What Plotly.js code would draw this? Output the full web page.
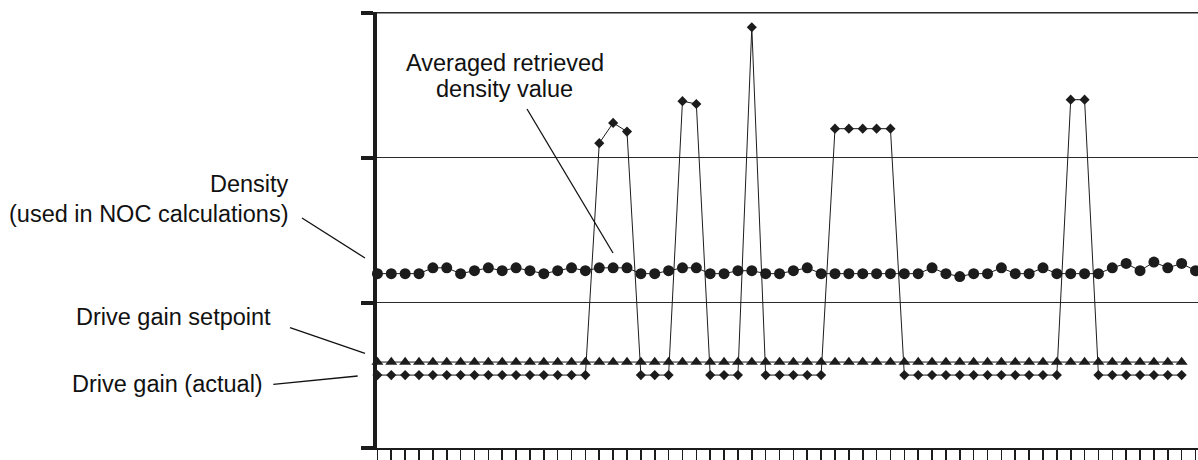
<!DOCTYPE html>
<html>
<head>
<meta charset="utf-8">
<script src="https://cdn.plot.ly/plotly-3.0.1.min.js"></script>
<style>
  html, body { margin: 0; padding: 0; background: #fff; }
  #chart { width: 1198px; height: 460px; }
</style>
</head>
<body>
<div id="chart"></div>
<script>
// ---- data ----
var samples = [0,1,2,3,4,5,6,7,8,9,10,11,12,13,14,15,16,17,18,19,20,21,22,23,24,25,26,27,28,29,
               30,31,32,33,34,35,36,37,38,39,40,41,42,43,44,45,46,47,48,49,50,51,52,53,54,55,56,57,58,59];

var densityValues = [1.20,1.20,1.20,1.20,1.24,1.24,1.20,1.22,1.24,1.22,
                     1.24,1.22,1.20,1.22,1.24,1.22,1.24,1.24,1.24,1.20,
                     1.20,1.22,1.24,1.24,1.20,1.20,1.22,1.22,1.20,1.20,
                     1.22,1.24,1.20,1.20,1.20,1.20,1.20,1.20,1.20,1.20,
                     1.24,1.20,1.18,1.20,1.20,1.24,1.20,1.20,1.24,1.20,
                     1.20,1.20,1.20,1.24,1.27,1.22,1.28,1.24,1.27,1.22];

var setpointValues = [0.59,0.59,0.59,0.59,0.59,0.59,0.59,0.59,0.59,0.59,
                      0.59,0.59,0.59,0.59,0.59,0.59,0.59,0.59,0.59,0.59,
                      0.59,0.59,0.59,0.59,0.59,0.59,0.59,0.59,0.59,0.59,
                      0.59,0.59,0.59,0.59,0.59,0.59,0.59,0.59,0.59,0.59,
                      0.59,0.59,0.59,0.59,0.59,0.59,0.59,0.59,0.59,0.59,
                      0.59,0.59,0.59,0.59,0.59,0.59,0.59,0.59,0.59];

var actualGainValues = [0.50,0.50,0.50,0.50,0.50,0.50,0.50,0.50,0.50,0.50,
                        0.50,0.50,0.50,0.50,0.50,0.50,2.10,2.24,2.18,0.50,
                        0.50,0.50,2.39,2.37,0.50,0.50,0.50,2.90,0.50,0.50,
                        0.50,0.50,0.50,2.20,2.20,2.20,2.20,2.20,0.50,0.50,
                        0.50,0.50,0.50,0.50,0.50,0.50,0.50,0.50,0.50,0.50,
                        2.40,2.40,0.50,0.50,0.50,0.50,0.50,0.50,0.50];

var yTicks = [0, 1, 2, 3];

var labelDensity = ["Density", "(used in NOC calculations)"];
var labelAveraged = ["Averaged retrieved", "density value"];
var labelSetpoint = "Drive gain setpoint";
var labelActual = "Drive gain (actual)";

// ---- layout constants ----
var W = 1198, H = 460;
var M = { l: 377, r: 0, t: 12, b: 12 };
var INK = "#1c1c1c";
var FONT = "Liberation Sans, Arial, Helvetica, sans-serif";
var FS = 23.5;

function px(x) { return (x - M.l) / (W - M.l - M.r); }
function py(y) { return (H - M.b - y) / (H - M.t - M.b); }

var traces = [
  {
    x: samples.slice(0, densityValues.length), y: densityValues,
    mode: "lines+markers", type: "scatter", cliponaxis: false,
    line: { color: INK, width: 1 },
    marker: { symbol: "circle", size: 11, color: INK }
  },
  {
    x: samples.slice(0, setpointValues.length), y: setpointValues,
    mode: "lines+markers", type: "scatter", cliponaxis: false,
    line: { color: INK, width: 1 },
    marker: { symbol: "triangle-up", size: 10.5, color: INK }
  },
  {
    x: samples.slice(0, actualGainValues.length), y: actualGainValues,
    mode: "lines+markers", type: "scatter", cliponaxis: false,
    line: { color: INK, width: 1 },
    marker: { symbol: "diamond", size: 7.8, color: INK }
  }
];

function textAnn(t, x, y, xanchor) {
  return { text: t, xref: "paper", yref: "paper", x: px(x), y: py(y),
           xanchor: xanchor, yanchor: "middle", showarrow: false,
           font: { family: FONT, size: FS, color: "#111" } };
}

var annotations = [
  textAnn(labelAveraged[0], 504.5, 63, "center"),
  textAnn(labelAveraged[1], 504.5, 88.5, "center"),
  textAnn(labelDensity[0], 291, 183.5, "right"),
  textAnn(labelDensity[1], 291, 213.5, "right"),
  textAnn(labelSetpoint, 74, 316.5, "left"),
  textAnn(labelActual, 70, 384, "left")
];

function leader(x0, y0, x1, y1) {
  return { type: "line", xref: "paper", yref: "paper",
           x0: px(x0), y0: py(y0), x1: px(x1), y1: py(y1),
           line: { color: "#111", width: 1.3 } };
}

var shapes = [
  leader(527, 109, 613, 253),
  leader(302, 218, 365, 258),
  leader(290, 327.7, 365, 353.3),
  leader(273.3, 384.3, 357.7, 376),
  // top gridline (Plotly drops the grid line at the range edge)
  { type: "line", xref: "paper", yref: "y", x0: 0, x1: 1,
    y0: yTicks[yTicks.length - 1], y1: yTicks[yTicks.length - 1],
    layer: "below", line: { color: "#2a2a2a", width: 1.4 } }
];

var layout = {
  width: W, height: H,
  margin: M,
  paper_bgcolor: "#fff", plot_bgcolor: "#fff",
  showlegend: false,
  xaxis: {
    range: [-0.03, 59.18],
    tickmode: "array", tickvals: samples, showticklabels: false,
    ticks: "outside", ticklen: 14, tickwidth: 1.6, tickcolor: INK,
    showgrid: false, zeroline: false,
    showline: true, linecolor: INK, linewidth: 2
  },
  yaxis: {
    range: [-0.003, 3.005],
    tickmode: "array", tickvals: yTicks, showticklabels: false,
    ticks: "outside", ticklen: 12, tickwidth: 4, tickcolor: INK,
    showgrid: true, gridcolor: "#2a2a2a", gridwidth: 1.4,
    zeroline: false,
    showline: true, linecolor: INK, linewidth: 4
  },
  annotations: annotations,
  shapes: shapes
};

Plotly.newPlot("chart", traces, layout, { staticPlot: true, displayModeBar: false });
</script>
</body>
</html>
